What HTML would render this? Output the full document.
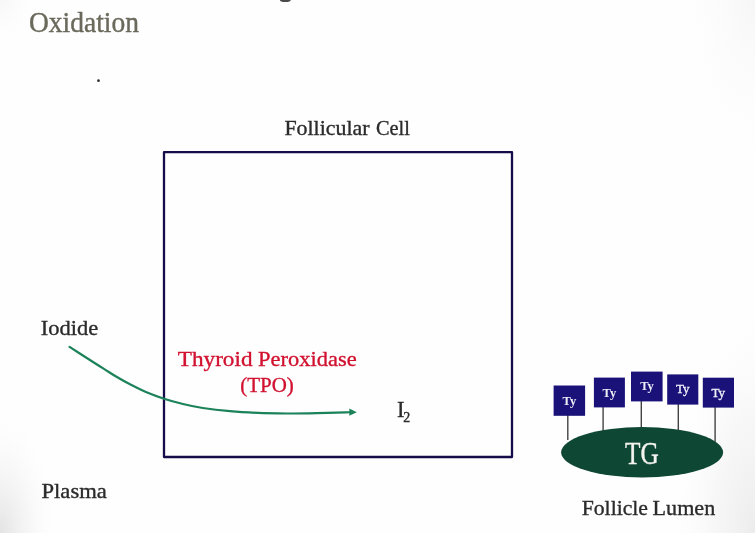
<!DOCTYPE html>
<html>
<head>
<meta charset="utf-8">
<title>Oxidation</title>
<style>
html,body{margin:0;padding:0;background:#fefefe;}
body{width:755px;height:533px;overflow:hidden;font-family:"Liberation Serif",serif;}
svg{display:block;position:absolute;left:0;top:0;}
text{font-family:"Liberation Serif",serif;}
.b{stroke:#2b2b2b;stroke-width:0.35px;}
.r{stroke:#d1112f;stroke-width:0.35px;}
.t{stroke:#6a695b;stroke-width:0.4px;}
svg{will-change:transform;opacity:0.999;}
</style>
</head>
<body>
<svg width="755" height="533" viewBox="0 0 755 533">
  <defs>
    <radialGradient id="gbl" cx="0" cy="533" r="1" gradientUnits="userSpaceOnUse" gradientTransform="translate(0 533) scale(58 125) translate(0 -533)">
      <stop offset="0" stop-color="#e3e3e3"/>
      <stop offset="0.5" stop-color="#f3f3f3" stop-opacity="0.7"/>
      <stop offset="1" stop-color="#fefefe" stop-opacity="0"/>
    </radialGradient>
    <radialGradient id="gbr" cx="755" cy="533" r="1" gradientUnits="userSpaceOnUse" gradientTransform="translate(755 533) scale(85 230) translate(-755 -533)">
      <stop offset="0" stop-color="#ececec"/>
      <stop offset="0.5" stop-color="#f5f5f5" stop-opacity="0.75"/>
      <stop offset="1" stop-color="#fefefe" stop-opacity="0"/>
    </radialGradient>
    <radialGradient id="gtr" cx="755" cy="0" r="1" gradientUnits="userSpaceOnUse" gradientTransform="translate(755 0) scale(80 170) translate(-755 0)">
      <stop offset="0" stop-color="#f6f6f6"/>
      <stop offset="1" stop-color="#fefefe" stop-opacity="0"/>
    </radialGradient>
    <radialGradient id="gtl" cx="0" cy="0" r="1" gradientUnits="userSpaceOnUse" gradientTransform="scale(40 45)">
      <stop offset="0" stop-color="#f7f7f7"/>
      <stop offset="1" stop-color="#fefefe" stop-opacity="0"/>
    </radialGradient>
    <linearGradient id="gr" x1="0" y1="0" x2="1" y2="0">
      <stop offset="0" stop-color="#fefefe" stop-opacity="0"/>
      <stop offset="1" stop-color="#eeeeee"/>
    </linearGradient>
  </defs>
  <rect x="0" y="0" width="755" height="533" fill="#fefefe"/>
  <rect x="0" y="0" width="755" height="533" fill="url(#gbl)"/>
  <rect x="0" y="0" width="755" height="533" fill="url(#gbr)"/>
  <rect x="0" y="0" width="755" height="533" fill="url(#gtr)"/>
  <rect x="0" y="0" width="755" height="533" fill="url(#gtl)"/>

  <!-- fragment of clipped heading descender -->
  <ellipse cx="285.3" cy="0" rx="5.4" ry="2" fill="#4a4a4a"/>

  <!-- title -->
  <text x="29" y="31.8" font-size="29" class="t" fill="#6a695b" textLength="110" lengthAdjust="spacingAndGlyphs">Oxidation</text>
  <circle cx="98.5" cy="80.7" r="1.35" fill="#2a2a2a"/>

  <!-- follicular cell -->
  <text x="284.4" y="134.8" font-size="21.5" class="b" fill="#2b2b2b" textLength="85.2" lengthAdjust="spacingAndGlyphs">Follicular</text>
  <text x="376" y="134.8" font-size="21.5" class="b" fill="#2b2b2b" textLength="33.9" lengthAdjust="spacingAndGlyphs">Cell</text>
  <rect x="164" y="152.2" width="348" height="304.8" fill="none" stroke="#170c4a" stroke-width="2.3" stroke-linejoin="round"/>

  <!-- labels -->
  <text x="40.7" y="335.3" font-size="21.5" class="b" fill="#2b2b2b" textLength="57.5" lengthAdjust="spacingAndGlyphs">Iodide</text>
  <text x="41.5" y="498.3" font-size="21.5" class="b" fill="#2b2b2b" textLength="65.3" lengthAdjust="spacingAndGlyphs">Plasma</text>

  <text x="177.8" y="365.8" font-size="22" class="r" fill="#d1112f" textLength="74.7" lengthAdjust="spacingAndGlyphs">Thyroid</text>
  <text x="258.1" y="365.8" font-size="22" class="r" fill="#d1112f" textLength="98.5" lengthAdjust="spacingAndGlyphs">Peroxidase</text>
  <text x="240.2" y="391.7" font-size="22" class="r" fill="#d1112f" textLength="53.6" lengthAdjust="spacingAndGlyphs">(TPO)</text>

  <!-- arrow -->
  <path d="M69.6 346.9 C72.5 348.8 81.2 354.4 86.8 358.0 C92.4 361.6 98.2 365.3 103.2 368.4 C108.2 371.5 112.0 374.1 116.5 376.8 C121.0 379.5 125.1 381.8 130.0 384.3 C134.9 386.8 140.2 389.6 145.9 392.0 C151.6 394.4 157.8 396.7 164.0 398.7 C170.2 400.7 176.5 402.4 183.0 404.0 C189.5 405.6 195.0 406.8 202.8 408.0 C210.6 409.2 220.8 410.4 230.0 411.2 C239.2 412.0 248.4 412.5 258.0 412.9 C267.6 413.3 277.6 413.4 287.4 413.5 C297.1 413.6 306.8 413.4 316.5 413.2 C326.2 413.0 340.0 412.5 345.7 412.4 C351.4 412.2 349.7 412.3 350.5 412.3" fill="none" stroke="#1b8259" stroke-width="2.2" stroke-linecap="round"/>
  <path d="M349.3 408.6 L356.8 412.2 L349.3 415.8 Z" fill="#1b8259"/>

  <!-- I2 -->
  <text x="397" y="417.4" font-size="22.5" class="b" fill="#2b2b2b">I</text>
  <text x="403.3" y="422.2" font-size="14" class="b" fill="#2b2b2b">2</text>

  <!-- TG complex -->
  <g stroke="#444" stroke-width="1.4">
    <line x1="567.8" y1="415" x2="567.8" y2="440"/>
    <line x1="603.1" y1="407" x2="603.1" y2="433"/>
    <line x1="641.3" y1="401" x2="641.3" y2="430"/>
    <line x1="678.3" y1="404" x2="678.3" y2="433"/>
    <line x1="715.1" y1="407" x2="715.1" y2="442"/>
  </g>
  <ellipse cx="642.1" cy="452.3" rx="81" ry="25.2" fill="#0e4733"/>
  <text x="625" y="463.8" font-size="31" fill="#f4f4f0" stroke="#f4f4f0" stroke-width="0.4" textLength="33.7" lengthAdjust="spacingAndGlyphs">TG</text>

  <g fill="#1a1278">
    <rect x="553.6" y="385.5" width="31.5" height="30.3"/>
    <rect x="593.9" y="377.6" width="31" height="29.8"/>
    <rect x="631" y="371.6" width="31.6" height="29.8"/>
    <rect x="667.2" y="374.4" width="31.1" height="30.2"/>
    <rect x="702.8" y="377.7" width="31.2" height="29.9"/>
  </g>
  <g fill="#f0f0f8" font-size="12.5" font-weight="bold" text-anchor="middle">
    <text x="569.4" y="404.8">Ty</text>
    <text x="609.4" y="396.8">Ty</text>
    <text x="647" y="390.3">Ty</text>
    <text x="682.7" y="393.3" font-weight="normal" font-size="13" stroke="#f0f0f8" stroke-width="0.35">Ty</text>
    <text x="718.3" y="396.8" font-weight="normal" font-size="13" stroke="#f0f0f8" stroke-width="0.35">Ty</text>
  </g>

  <text x="581.7" y="515.3" font-size="21.5" class="b" fill="#2b2b2b" textLength="66.3" lengthAdjust="spacingAndGlyphs">Follicle</text>
  <text x="652.6" y="515.3" font-size="21.5" class="b" fill="#2b2b2b" textLength="62.6" lengthAdjust="spacingAndGlyphs">Lumen</text>
</svg>
</body>
</html>
